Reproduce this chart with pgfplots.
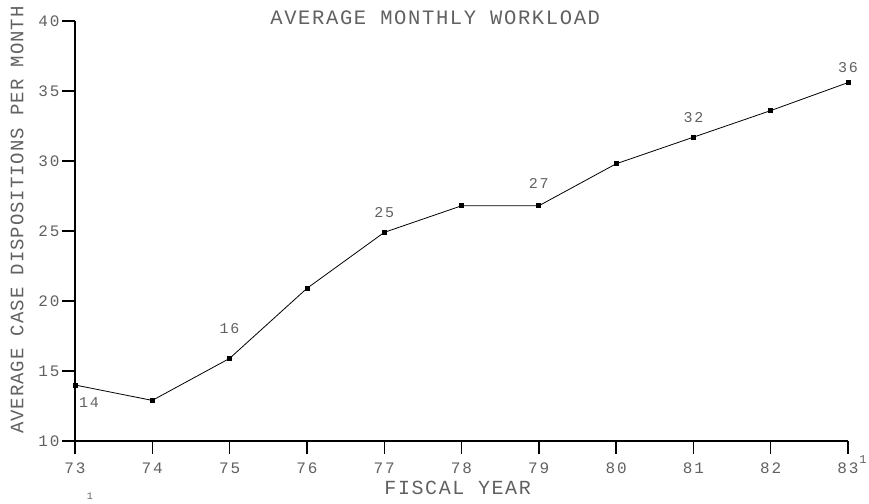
\documentclass[border=0pt]{standalone}
\usepackage{fontspec}
\usepackage{pgfplots}
\pgfplotsset{compat=1.18}
\newfontfamily\plotfont[LetterSpace=8]{Liberation Mono}
\newfontfamily\ylabfont[LetterSpace=5]{Liberation Mono}
\newfontfamily\tickfont[LetterSpace=12]{Liberation Mono}
\colorlet{ink}{black!62}

\begin{document}
\begin{tikzpicture}
  \useasboundingbox (-75pt,-62pt) rectangle (794pt,441pt);
  \begin{axis}[
      scale only axis,
      width=773pt, height=420pt,
      xmin=73, xmax=83, ymin=10, ymax=40,
      axis x line=bottom, axis y line=left,
      axis line style={-, line width=1.6pt},
      xtick={73,74,...,83}, ytick={10,15,...,40},
      tick align=outside,
      major tick length=13pt,
      tick style={line width=1.4pt, black},
      /pgf/number format/assume math mode=true,
      ticklabel style={font=\tickfont\fontsize{16}{18}\selectfont, text=ink},
      xticklabel style={yshift=-5pt},
      yticklabel style={xshift=1pt},
      title={AVERAGE MONTHLY WORKLOAD},
      title style={at={(axis description cs:0.466,1)}, anchor=center, yshift=-3pt,
        font=\plotfont\fontsize{20.5}{22}\selectfont, text=ink},
      xlabel={FISCAL YEAR},
      xlabel style={at={(axis description cs:0.495,-0.112)}, anchor=center,
        font=\plotfont\fontsize{20}{22}\selectfont, text=ink},
      ylabel={AVERAGE CASE DISPOSITIONS PER MONTH},
      ylabel style={at={(axis description cs:-0.075,0.526)}, anchor=center,
        font=\ylabfont\fontsize{19}{21}\selectfont, text=ink},
      clip=false,
    ]
    \addplot[black, line width=0.8pt, mark=square*, mark size=2pt]
      coordinates {
        (73,14.0) (74,12.9) (75,15.9) (76,20.9) (77,24.9) (78,26.8)
        (79,26.8) (80,29.8) (81,31.7) (82,33.6) (83,35.6)
      };
    % value labels as printed on the chart
    \begin{scope}[every node/.style={font=\tickfont\fontsize{15}{17}\selectfont, text=ink}]
      \node at (axis cs:73,14.0) [xshift=14pt, yshift=-18pt] {14};
      \node at (axis cs:75,15.9) [yshift=30pt] {16};
      \node at (axis cs:77,24.9) [yshift=20pt] {25};
      \node at (axis cs:79,26.8) [yshift=22pt] {27};
      \node at (axis cs:81,31.7) [yshift=20pt] {32};
      \node at (axis cs:83,35.6) [yshift=15pt] {36};
      \node at (axis cs:83,10) [xshift=15pt, yshift=-19pt, font=\tickfont\fontsize{12}{14}\selectfont] {1};
      \node at (axis cs:73,10) [xshift=15pt, yshift=-55pt, font=\tickfont\fontsize{10}{12}\selectfont] {1};
    \end{scope}
  \end{axis}
\end{tikzpicture}
\end{document}
